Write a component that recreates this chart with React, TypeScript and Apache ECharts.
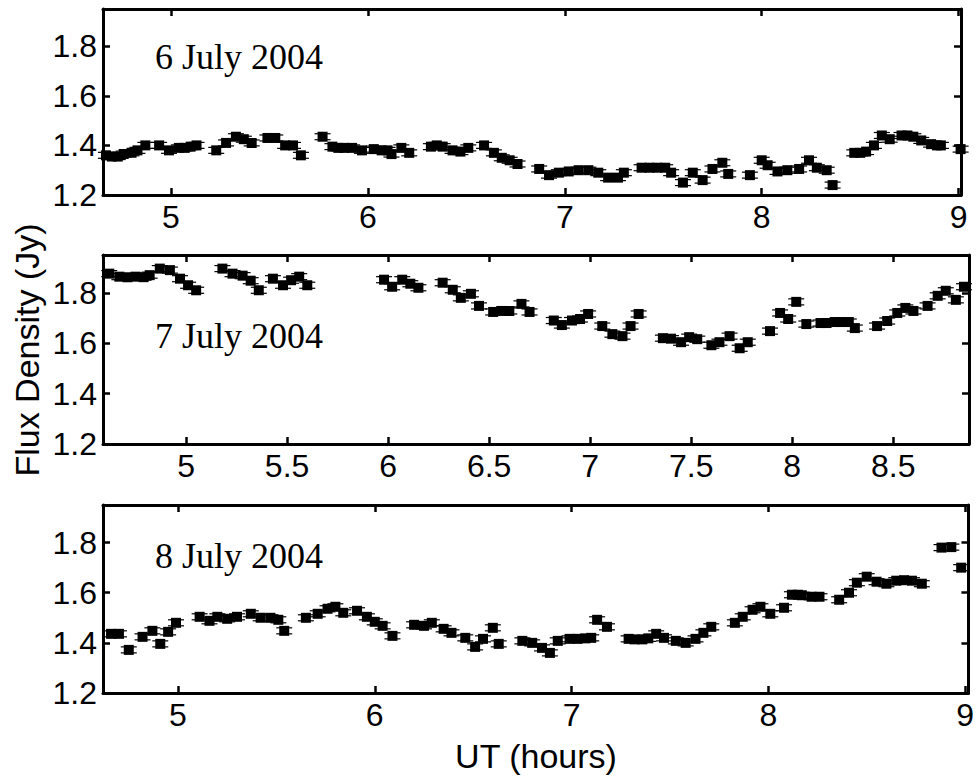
import React, { useEffect, useRef } from "react";
import * as echarts from "echarts";

// ---- Data (UT hours, flux density Jy) ----
const hours6 = [4.67,4.70,4.73,4.76,4.80,4.83,4.87,4.94,4.99,5.04,5.07,5.10,5.13,5.23,5.28,5.33,5.37,5.41,5.49,5.53,5.58,5.62,5.66,5.77,5.82,5.85,5.88,5.92,5.97,6.03,6.07,6.10,6.12,6.17,6.21,6.32,6.35,6.38,6.43,6.47,6.51,6.59,6.64,6.68,6.72,6.76,6.87,6.92,6.97,7.02,7.07,7.12,7.17,7.22,7.27,7.30,7.39,7.43,7.47,7.51,7.54,7.60,7.65,7.70,7.75,7.80,7.83,7.94,8.00,8.03,8.08,8.13,8.19,8.24,8.28,8.33,8.36,8.47,8.50,8.53,8.57,8.61,8.65,8.71,8.74,8.77,8.81,8.86,8.89,8.91,9.01];
const flux6 = [1.36,1.355,1.355,1.365,1.37,1.38,1.40,1.40,1.38,1.39,1.39,1.395,1.40,1.38,1.41,1.435,1.425,1.41,1.43,1.43,1.40,1.40,1.36,1.435,1.395,1.39,1.39,1.39,1.38,1.385,1.38,1.38,1.365,1.39,1.37,1.395,1.40,1.395,1.38,1.375,1.39,1.40,1.37,1.35,1.34,1.325,1.305,1.28,1.29,1.295,1.30,1.30,1.29,1.27,1.27,1.29,1.31,1.31,1.31,1.31,1.29,1.25,1.29,1.26,1.305,1.33,1.285,1.28,1.34,1.32,1.295,1.30,1.305,1.34,1.31,1.30,1.24,1.37,1.37,1.375,1.40,1.44,1.425,1.44,1.44,1.435,1.42,1.405,1.40,1.40,1.385];

const hours7 = [4.62,4.67,4.71,4.75,4.79,4.82,4.87,4.92,4.97,5.01,5.05,5.18,5.23,5.28,5.32,5.36,5.43,5.48,5.52,5.56,5.60,5.98,6.02,6.07,6.11,6.15,6.27,6.32,6.36,6.41,6.45,6.52,6.56,6.60,6.66,6.70,6.82,6.86,6.91,6.95,6.99,7.06,7.11,7.16,7.20,7.24,7.36,7.40,7.45,7.49,7.53,7.60,7.64,7.69,7.74,7.78,7.89,7.94,7.98,8.02,8.07,8.14,8.17,8.21,8.24,8.28,8.31,8.42,8.47,8.52,8.56,8.60,8.67,8.72,8.76,8.81,8.85];
const flux7 = [1.876,1.864,1.862,1.864,1.862,1.87,1.896,1.89,1.856,1.83,1.81,1.896,1.876,1.868,1.848,1.81,1.856,1.83,1.85,1.864,1.83,1.852,1.824,1.852,1.836,1.82,1.84,1.812,1.78,1.796,1.748,1.724,1.728,1.728,1.756,1.724,1.69,1.672,1.69,1.696,1.716,1.668,1.636,1.628,1.668,1.716,1.62,1.618,1.604,1.624,1.616,1.592,1.604,1.628,1.58,1.604,1.648,1.72,1.696,1.764,1.676,1.68,1.68,1.684,1.684,1.684,1.66,1.668,1.688,1.72,1.74,1.728,1.748,1.788,1.808,1.772,1.824];

const hours8 = [4.66,4.70,4.75,4.82,4.87,4.91,4.95,4.99,5.11,5.16,5.20,5.25,5.30,5.37,5.42,5.47,5.51,5.54,5.65,5.71,5.76,5.80,5.84,5.91,5.96,6.00,6.04,6.09,6.20,6.25,6.29,6.35,6.39,6.46,6.51,6.55,6.60,6.63,6.75,6.80,6.85,6.89,6.93,6.99,7.03,7.07,7.10,7.13,7.18,7.29,7.32,7.36,7.39,7.43,7.47,7.53,7.58,7.63,7.67,7.71,7.83,7.87,7.92,7.96,8.01,8.08,8.12,8.15,8.17,8.22,8.26,8.36,8.41,8.45,8.50,8.55,8.60,8.65,8.69,8.73,8.78,8.88,8.93,8.98];
const flux8 = [1.436,1.436,1.372,1.424,1.448,1.396,1.444,1.48,1.504,1.488,1.504,1.496,1.504,1.516,1.50,1.50,1.492,1.448,1.50,1.516,1.536,1.544,1.52,1.528,1.504,1.484,1.468,1.428,1.472,1.468,1.48,1.456,1.44,1.42,1.384,1.416,1.46,1.396,1.408,1.40,1.38,1.36,1.408,1.416,1.416,1.418,1.42,1.492,1.464,1.416,1.414,1.414,1.418,1.436,1.42,1.408,1.40,1.416,1.44,1.464,1.48,1.504,1.532,1.544,1.516,1.54,1.592,1.592,1.59,1.584,1.584,1.572,1.60,1.64,1.664,1.644,1.636,1.648,1.65,1.648,1.636,1.78,1.782,1.70];

const xTicksA = [5, 6, 7, 8, 9];
const xTicksB = [5, 5.5, 6, 6.5, 7, 7.5, 8, 8.5];
const yTicks = [1.2, 1.4, 1.6, 1.8];
const dateLabels = ["6 July 2004", "7 July 2004", "8 July 2004"];
const errorHalf = 0.012;

const SANS = "'Liberation Sans', Arial, Helvetica, sans-serif";
const SERIF = "'Liberation Serif', 'Times New Roman', serif";

const panels = [
  { hours: hours6, flux: flux6, xTicks: xTicksA, xMin: 4.655, xMax: 9.012, grid: { left: 103, top: 9, width: 858, height: 186 }, labelY: 59 },
  { hours: hours7, flux: flux7, xTicks: xTicksB, xMin: 4.589, xMax: 8.875, grid: { left: 103, top: 255, width: 866, height: 189 }, labelY: 338 },
  { hours: hours8, flux: flux8, xTicks: xTicksA, xMin: 4.619, xMax: 9.017, grid: { left: 103, top: 505, width: 866, height: 188 }, labelY: 558 },
];

function fmt(v: number) {
  return String(Math.round(v * 10) / 10);
}

export default function App() {
  const ref = useRef<HTMLDivElement>(null);
  useEffect(() => {
    if (!ref.current) return;
    const chart = echarts.init(ref.current, undefined, { renderer: "svg" });
    const grids: any[] = [];
    const xAxes: any[] = [];
    const yAxes: any[] = [];
    const series: any[] = [];
    const graphics: any[] = [];
    const lineStyle = { color: "#000", width: 3 };
    panels.forEach((p, i) => {
      grids.push({ ...p.grid, containLabel: false });
      const baseX = {
        type: "value",
        gridIndex: i,
        min: p.xMin,
        max: p.xMax,
        splitLine: { show: false },
        axisLine: { show: true, onZero: false, lineStyle },
        axisTick: { show: true, inside: true, length: 7, customValues: p.xTicks, lineStyle: { color: "#000", width: 2.5 } },
      };
      xAxes.push({
        ...baseX,
        position: "bottom",
        axisLabel: { show: true, customValues: p.xTicks, formatter: (v: number) => fmt(v), color: "#000", fontSize: 32, fontFamily: SANS, margin: 6 },
      });
      xAxes.push({ ...baseX, position: "top", axisLabel: { show: false } });
      const baseY = {
        type: "value",
        gridIndex: i,
        min: 1.2,
        max: 1.95,
        splitLine: { show: false },
        axisLine: { show: true, onZero: false, lineStyle },
        axisTick: { show: true, inside: true, length: 7, customValues: yTicks, lineStyle: { color: "#000", width: 2.5 } },
      };
      yAxes.push({
        ...baseY,
        position: "left",
        axisLabel: { show: true, customValues: yTicks, formatter: (v: number) => fmt(v), color: "#000", fontSize: 32, fontFamily: SANS, margin: 6 },
      });
      yAxes.push({ ...baseY, position: "right", axisLabel: { show: false } });
      series.push({
        type: "custom",
        xAxisIndex: i * 2,
        yAxisIndex: i * 2,
        clip: false,
        data: p.hours.map((h, k) => [h, p.flux[k]]),
        renderItem: (params: any, api: any) => {
          const x = api.value(0);
          const y = api.value(1);
          const c = api.coord([x, y]);
          const t = api.coord([x, y + errorHalf]);
          const b = api.coord([x, y - errorHalf]);
          const cw = 8;
          const s = 5;
          const st = { stroke: "#000", lineWidth: 1.2 };
          return {
            type: "group",
            children: [
              { type: "line", shape: { x1: c[0], y1: t[1], x2: c[0], y2: b[1] }, style: st },
              { type: "line", shape: { x1: c[0] - cw, y1: t[1], x2: c[0] + cw, y2: t[1] }, style: st },
              { type: "line", shape: { x1: c[0] - cw, y1: b[1], x2: c[0] + cw, y2: b[1] }, style: st },
              { type: "rect", shape: { x: c[0] - s, y: c[1] - s, width: 2 * s, height: 2 * s }, style: { fill: "#000" } },
            ],
          };
        },
      });
      graphics.push({
        type: "text",
        left: 155,
        top: p.labelY - 20,
        style: { text: dateLabels[i], fontSize: 36, fontFamily: SERIF, fill: "#000" },
      });
    });
    graphics.push({
      type: "text",
      x: 27,
      y: 350,
      rotation: Math.PI / 2,
      style: { text: "Flux Density (Jy)", fontSize: 34, fontFamily: SANS, fill: "#000", align: "center", verticalAlign: "middle" },
    });
    graphics.push({
      type: "text",
      x: 536,
      y: 756,
      style: { text: "UT (hours)", fontSize: 34, fontFamily: SANS, fill: "#000", align: "center", verticalAlign: "middle" },
    });
    chart.setOption({
      animation: false,
      backgroundColor: "#fff",
      grid: grids,
      xAxis: xAxes,
      yAxis: yAxes,
      series,
      graphic: graphics,
    });
    return () => chart.dispose();
  }, []);
  return <div ref={ref} style={{ position: "fixed", left: 0, top: 0, width: 977, height: 777 }} />;
}
